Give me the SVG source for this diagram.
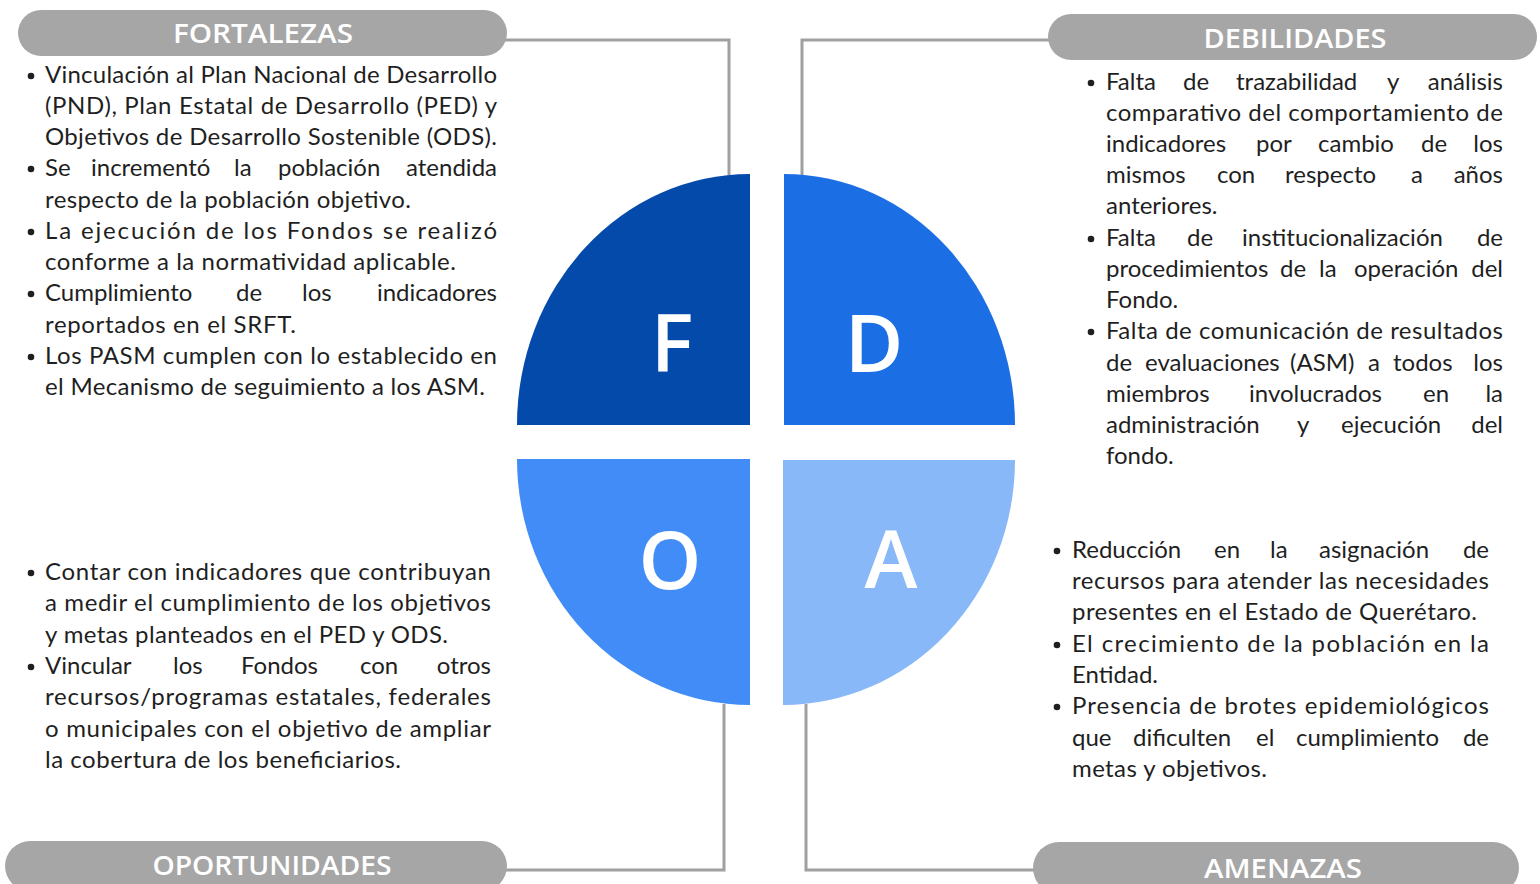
<svg xmlns="http://www.w3.org/2000/svg" width="1540" height="884" viewBox="0 0 1540 884">
<style>
.t{font-family:Lato,"Liberation Sans",sans-serif;font-size:24px;fill:#1f1f1f}
.e{text-anchor:end}
.h{font-family:"Open Sans","Liberation Sans",sans-serif;font-size:27px;font-weight:600;fill:#ffffff;text-anchor:middle}
.pill{fill:#a6a6a6}
.big{font-family:"Open Sans","Liberation Sans",sans-serif;font-size:80px;font-weight:600;fill:#ffffff;text-anchor:middle}
.c{fill:none;stroke:#a0a0a0;stroke-width:3}
.b{fill:#1f1f1f}
</style>
<rect width="1540" height="884" fill="#ffffff"/>
<g id="connectors">
<polyline class="c" points="505,40 729,40 729,175"/>
<polyline class="c" points="1050,40 802,40 802,175"/>
<polyline class="c" points="505,870 724,870 724,704"/>
<polyline class="c" points="1037,870 806,870 806,704"/>
</g>
<g id="quad-F">
<path d="M750,174 L750,425 L517,425 A233,251 0 0,1 750,174 Z" fill="#034aaa"/>
<text class="big" x="672" y="372">F</text>
</g>
<g id="quad-D">
<path d="M784,174 A231,251 0 0,1 1015,425 L784,425 Z" fill="#1b6ee3"/>
<text class="big" x="874" y="372">D</text>
</g>
<g id="quad-O">
<path d="M517,459 L750,459 L750,705 A233,246 0 0,1 517,459 Z" fill="#418cf7"/>
<text class="big" x="670" y="589">O</text>
</g>
<g id="quad-A">
<path d="M783,460 L1015,460 A232,245 0 0,1 783,705 Z" fill="#89b8f8"/>
<text class="big" x="891" y="588">A</text>
</g>
<g id="fortalezas">
<rect class="pill" x="18" y="10" width="489" height="46" rx="23"/>
<text class="h" x="263" y="43" textLength="180" lengthAdjust="spacingAndGlyphs">FORTALEZAS</text>
<circle class="b" cx="31" cy="76" r="3.3"/>
<circle class="b" cx="31" cy="169" r="3.3"/>
<circle class="b" cx="31" cy="232" r="3.3"/>
<circle class="b" cx="31" cy="294" r="3.3"/>
<circle class="b" cx="31" cy="357" r="3.3"/>
<text class="t" x="45" y="83" textLength="452" lengthAdjust="spacing">Vinculación al Plan Nacional de Desarrollo</text>
<text class="t" x="45" y="114" textLength="452" lengthAdjust="spacing">(PND), Plan Estatal de Desarrollo (PED) y</text>
<text class="t" x="45" y="145" textLength="452" lengthAdjust="spacing">Objetivos de Desarrollo Sostenible (ODS).</text>
<text class="t" y="176"><tspan x="45">Se</tspan><tspan x="91">incrementó</tspan><tspan x="234">la</tspan><tspan x="278">población</tspan></text>
<text class="t e" x="497" y="176">atendida</text>
<text class="t" x="45" y="208" textLength="366" lengthAdjust="spacing">respecto de la población objetivo.</text>
<text class="t" x="45" y="239" textLength="452" lengthAdjust="spacing">La ejecución de los Fondos se realizó</text>
<text class="t" x="45" y="270" textLength="411" lengthAdjust="spacing">conforme a la normatividad aplicable.</text>
<text class="t" y="301"><tspan x="45">Cumplimiento</tspan><tspan x="236">de</tspan><tspan x="302">los</tspan></text>
<text class="t e" x="497" y="301">indicadores</text>
<text class="t" x="45" y="333" textLength="251" lengthAdjust="spacing">reportados en el SRFT.</text>
<text class="t" x="45" y="364" textLength="452" lengthAdjust="spacing">Los PASM cumplen con lo establecido en</text>
<text class="t" x="45" y="395" textLength="440" lengthAdjust="spacing">el Mecanismo de seguimiento a los ASM.</text>
</g>
<g id="debilidades">
<rect class="pill" x="1048" y="14" width="489" height="46" rx="23"/>
<text class="h" x="1295" y="48" textLength="183" lengthAdjust="spacingAndGlyphs">DEBILIDADES</text>
<circle class="b" cx="1091" cy="83" r="3.3"/>
<circle class="b" cx="1091" cy="239" r="3.3"/>
<circle class="b" cx="1091" cy="332" r="3.3"/>
<text class="t" y="90"><tspan x="1106">Falta</tspan><tspan x="1183">de</tspan><tspan x="1236">trazabilidad</tspan><tspan x="1387">y</tspan></text>
<text class="t e" x="1503" y="90">análisis</text>
<text class="t" x="1106" y="121" textLength="397" lengthAdjust="spacing">comparativo del comportamiento de</text>
<text class="t" y="152"><tspan x="1106">indicadores</tspan><tspan x="1256">por</tspan><tspan x="1318">cambio</tspan><tspan x="1421">de</tspan></text>
<text class="t e" x="1503" y="152">los</text>
<text class="t" y="183"><tspan x="1106">mismos</tspan><tspan x="1217">con</tspan><tspan x="1285">respecto</tspan><tspan x="1411">a</tspan></text>
<text class="t e" x="1503" y="183">años</text>
<text class="t" x="1106" y="214">anteriores.</text>
<text class="t" y="246"><tspan x="1106">Falta</tspan><tspan x="1187">de</tspan><tspan x="1242">institucionalización</tspan></text>
<text class="t e" x="1503" y="246">de</text>
<text class="t" y="277"><tspan x="1106">procedimientos</tspan><tspan x="1280">de</tspan><tspan x="1319">la</tspan><tspan x="1354">operación</tspan></text>
<text class="t e" x="1503" y="277">del</text>
<text class="t" x="1106" y="308">Fondo.</text>
<text class="t" x="1106" y="339" textLength="397" lengthAdjust="spacing">Falta de comunicación de resultados</text>
<text class="t" y="371"><tspan x="1106">de</tspan><tspan x="1145">evaluaciones</tspan><tspan x="1290">(ASM)</tspan><tspan x="1368">a</tspan><tspan x="1393">todos</tspan></text>
<text class="t e" x="1503" y="371">los</text>
<text class="t" y="402"><tspan x="1106">miembros</tspan><tspan x="1249">involucrados</tspan><tspan x="1423">en</tspan></text>
<text class="t e" x="1503" y="402">la</text>
<text class="t" y="433"><tspan x="1106">administración</tspan><tspan x="1297">y</tspan><tspan x="1341">ejecución</tspan></text>
<text class="t e" x="1503" y="433">del</text>
<text class="t" x="1106" y="464">fondo.</text>
</g>
<g id="oportunidades">
<rect class="pill" x="5" y="841" width="502" height="50" rx="25"/>
<text class="h" x="272" y="875" textLength="239" lengthAdjust="spacingAndGlyphs">OPORTUNIDADES</text>
<circle class="b" cx="31" cy="573" r="3.3"/>
<circle class="b" cx="31" cy="667" r="3.3"/>
<text class="t" x="45" y="580" textLength="446" lengthAdjust="spacing">Contar con indicadores que contribuyan</text>
<text class="t" x="45" y="611" textLength="446" lengthAdjust="spacing">a medir el cumplimiento de los objetivos</text>
<text class="t" x="45" y="643" textLength="403" lengthAdjust="spacing">y metas planteados en el PED y ODS.</text>
<text class="t" y="674"><tspan x="45">Vincular</tspan><tspan x="173">los</tspan><tspan x="241">Fondos</tspan><tspan x="360">con</tspan></text>
<text class="t e" x="491" y="674">otros</text>
<text class="t" x="45" y="705" textLength="446" lengthAdjust="spacing">recursos/programas estatales, federales</text>
<text class="t" x="45" y="737" textLength="446" lengthAdjust="spacing">o municipales con el objetivo de ampliar</text>
<text class="t" x="45" y="768" textLength="356" lengthAdjust="spacing">la cobertura de los beneficiarios.</text>
</g>
<g id="amenazas">
<rect class="pill" x="1033" y="842" width="486" height="52" rx="26"/>
<text class="h" x="1283" y="878" textLength="158" lengthAdjust="spacingAndGlyphs">AMENAZAS</text>
<circle class="b" cx="1057" cy="551" r="3.3"/>
<circle class="b" cx="1057" cy="645" r="3.3"/>
<circle class="b" cx="1057" cy="707" r="3.3"/>
<text class="t" y="558"><tspan x="1072">Reducción</tspan><tspan x="1214">en</tspan><tspan x="1270">la</tspan><tspan x="1319">asignación</tspan></text>
<text class="t e" x="1489" y="558">de</text>
<text class="t" x="1072" y="589" textLength="417" lengthAdjust="spacing">recursos para atender las necesidades</text>
<text class="t" x="1072" y="620" textLength="405" lengthAdjust="spacing">presentes en el Estado de Querétaro.</text>
<text class="t" x="1072" y="652" textLength="417" lengthAdjust="spacing">El crecimiento de la población en la</text>
<text class="t" x="1072" y="683">Entidad.</text>
<text class="t" x="1072" y="714" textLength="417" lengthAdjust="spacing">Presencia de brotes epidemiológicos</text>
<text class="t" y="746"><tspan x="1072">que</tspan><tspan x="1133">dificulten</tspan><tspan x="1256">el</tspan><tspan x="1296">cumplimiento</tspan></text>
<text class="t e" x="1489" y="746">de</text>
<text class="t" x="1072" y="777" textLength="195" lengthAdjust="spacing">metas y objetivos.</text>
</g>
</svg>
